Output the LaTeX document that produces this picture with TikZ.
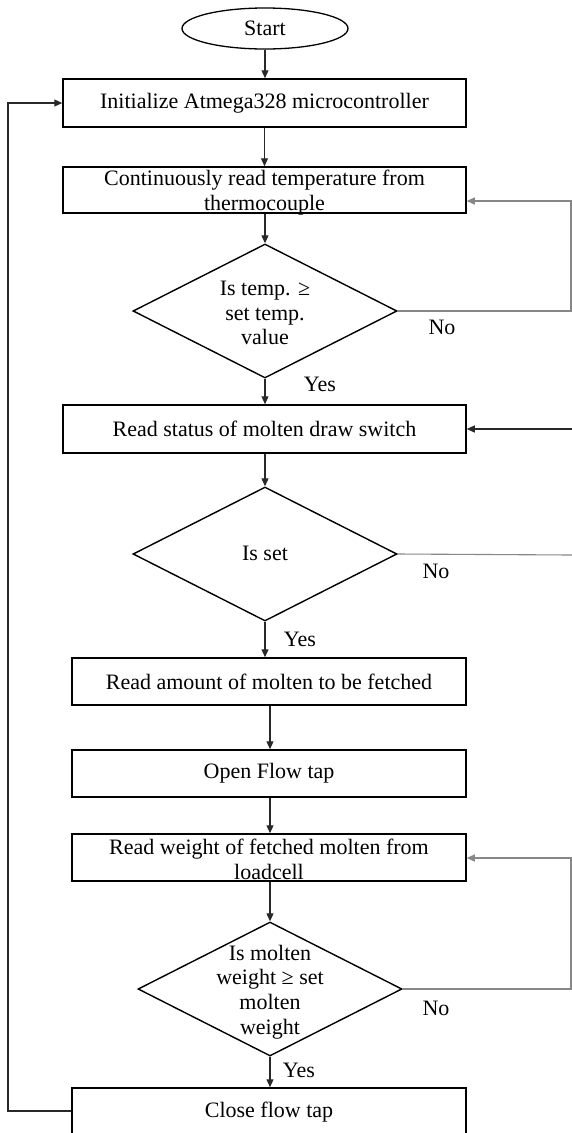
\documentclass[tikz,border=0pt]{standalone}
\usepackage{fontspec}
\setmainfont{Liberation Serif}
\usetikzlibrary{shapes.geometric,arrows.meta}
\definecolor{linec}{RGB}{40,40,40}
\definecolor{loopc}{RGB}{135,135,135}
\begin{document}
\begin{tikzpicture}[x=1pt,y=-1pt,
  every node/.style={font=\fontsize{22}{24.8}\selectfont},
  box/.style={draw=black,line width=1.5pt,rectangle,inner sep=0pt,align=center},
  widebox/.style={box,minimum width=403pt},
  narrowbox/.style={box,minimum width=394pt},
  dia/.style={draw=black,line width=1.4pt,diamond,inner sep=0pt,minimum width=264pt,minimum height=134pt,shape aspect=1.97},
  term/.style={draw=black,line width=1.3pt,ellipse,inner sep=0pt,minimum width=166pt,minimum height=41pt},
  txt/.style={inner sep=0pt,align=center},
  lbl/.style={inner sep=0pt},
  tip/.style={-{Triangle[length=8pt,width=7pt]}},
  ln/.style={draw=linec,line width=1.1pt},
  lp/.style={draw=loopc,line width=1.1pt}]
\useasboundingbox (0,0) rectangle (572,1133);

% nodes
\node[term] (start) at (265,28.5) {Start};
\node[widebox,minimum height=48pt] (init) at (264.5,103) {Initialize Atmega328 microcontroller};
\node[widebox,minimum height=46pt] (cont) at (264.5,190) {};
\node[txt] (contt) at (264.5,192.5) {Continuously read temperature from\\thermocouple};
\node[dia] (d1) at (265,311) {};
\node[txt] (t1) at (265,313) {Is temp. ≥\\set temp.\\value};
\node[widebox,minimum height=48pt] (status) at (264.5,429) {Read status of molten draw switch};
\node[dia] (d2) at (265,554) {};
\node[txt] (t2) at (265,553) {Is set};
\node[narrowbox,minimum height=47pt] (amount) at (269,681.5) {Read amount of molten to be fetched};
\node[narrowbox,minimum height=47pt] (open) at (269,773.5) {Open Flow tap};
\node[narrowbox,minimum height=47pt] (weight) at (269,857.5) {};
\node[txt] (weightt) at (269,859.5) {Read weight of fetched molten from\\loadcell};
\node[dia] (d3) at (270,989) {};
\node[txt] (t3) at (270,992) {Is molten\\weight ≥ set\\molten\\weight};
\node[narrowbox,minimum height=48pt] (close) at (269,1112) {Close flow tap};

% labels
\node[lbl] (no1) at (442,327) {No};
\node[lbl] (yes1) at (320,384) {Yes};
\node[lbl] (no2) at (436,571) {No};
\node[lbl] (yes2) at (300,639) {Yes};
\node[lbl] (no3) at (436,1008) {No};
\node[lbl] (yes3) at (299,1070) {Yes};

% free ends
\coordinate (r1) at (571,201);
\coordinate (r2) at (572,429);
\coordinate (r3) at (572,555);
\coordinate (r4) at (571,858);
\coordinate (l1) at (8,1111);

% connectors
\draw[ln,tip] (start.south) -- (start.south |- init.north);
\draw[ln,tip] (init.south) -- (cont.north);
\draw[ln,tip] (cont.south -| d1.north) -- (d1.north);
\draw[ln,tip] (d1.south) -- (d1.south |- status.north);
\draw[lp,tip] (d1.east) -| (r1) -- (r1 -| cont.east);
\draw[ln,tip] (r2) -- (r2 -| status.east);
\draw[ln,tip] (status.south -| d2.north) -- (d2.north);
\draw[lp] (d2.east) -- (r3);
\draw[ln,tip] (d2.south) -- (d2.south |- amount.north);
\draw[ln,tip] (amount.south -| d3.north) -- (open.north -| d3.north);
\draw[ln,tip] (open.south -| d3.north) -- (weight.north -| d3.north);
\draw[ln,tip] (weight.south -| d3.north) -- (d3.north);
\draw[lp,tip] (d3.east) -| (r4) -- (r4 -| weight.east);
\draw[ln,tip] (d3.south) -- (d3.south |- close.north);
\draw[ln,tip] (close.west |- l1) -- (l1) |- (init.west);
\end{tikzpicture}
\end{document}
